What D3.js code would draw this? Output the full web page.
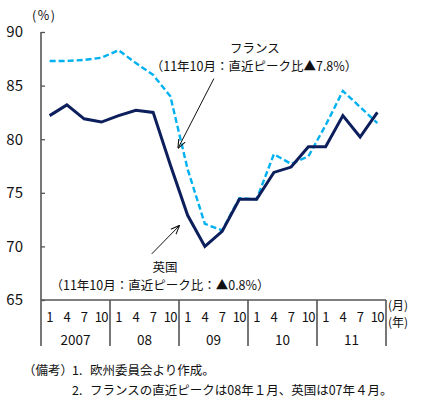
<!DOCTYPE html>
<html>
<head>
<meta charset="utf-8">
<script src="https://cdn.jsdelivr.net/npm/d3@7"></script>
<style>
  html, body { margin: 0; padding: 0; background: #fff; }
  svg text { font-family: "Noto Sans CJK JP", "Noto Sans", sans-serif; fill: #111; }
</style>
</head>
<body>
<script>
// quarterly data, 2007Q1 .. 2011Q4 (%)
var years = ['2007', '08', '09', '10', '11'];
var months = ['1', '4', '7', '10'];
var ukValues = [82.2, 83.2, 81.9, 81.6, 82.2, 82.7, 82.5, 77.6, 72.9, 70.0,
                71.4, 74.4, 74.4, 76.9, 77.4, 79.3, 79.3, 82.2, 80.2, 82.5];
var franceValues = [87.3, 87.3, 87.4, 87.6, 88.3, 87.1, 86.0, 84.0, 77.2, 72.1,
                    71.5, 74.5, 74.4, 78.6, 77.7, 78.4, 81.3, 84.5, 83.0, 81.5];
var yTicks = [65, 70, 75, 80, 85, 90];

var width = 424, height = 406;
var plotLeft = 41, plotRight = 386, plotTop = 32, plotBottom = 300;
var nQ = years.length * months.length;

var svg = d3.select('body').append('svg')
    .attr('width', width)
    .attr('height', height);

var x = d3.scaleLinear().domain([0, nQ]).range([plotLeft, plotRight]);
var y = d3.scaleLinear().domain([65, 90]).range([plotBottom, plotTop]);
var px = function(i){ return x(i + 0.5); };

// y axis (ticks pointing inside)
var yAxis = svg.append('g')
    .attr('transform', 'translate(' + plotLeft + ',0)')
    .call(d3.axisRight(y).tickValues(yTicks).tickSize(4).tickFormat(''));
yAxis.select('.domain').remove();
yAxis.selectAll('line').attr('stroke', '#555').attr('stroke-width', 1.3);

svg.append('g').selectAll('text')
    .data(yTicks)
    .enter()
    .append('text')
    .attr('x', 23)
    .attr('y', function(d){ return y(d); })
    .attr('dy', '0.36em')
    .attr('text-anchor', 'end')
    .style('font-size', '15px')
    .text(function(d){ return d; });

svg.append('text')
    .attr('x', 32).attr('y', 20)
    .style('font-size', '12.5px')
    .style('letter-spacing', '1.5px')
    .text('(%)');

// axis frame
svg.append('line')
    .attr('x1', plotLeft).attr('x2', plotLeft)
    .attr('y1', y(90)).attr('y2', 346)
    .attr('stroke', '#555').attr('stroke-width', 1.6);
svg.append('line')
    .attr('x1', plotLeft).attr('x2', plotRight)
    .attr('y1', plotBottom).attr('y2', plotBottom)
    .attr('stroke', '#555').attr('stroke-width', 1.6);

// year separators
svg.append('g').selectAll('line')
    .data(years)
    .enter()
    .append('line')
    .attr('x1', function(d, i){ return x((i + 1) * months.length); })
    .attr('x2', function(d, i){ return x((i + 1) * months.length); })
    .attr('y1', plotBottom).attr('y2', 346)
    .attr('stroke', '#555').attr('stroke-width', 1.6);

// month labels
var quarters = d3.range(nQ);
svg.append('g').selectAll('text')
    .data(quarters)
    .enter()
    .append('text')
    .attr('x', function(d){ return px(d); })
    .attr('y', 322)
    .attr('text-anchor', 'middle')
    .style('font-size', '13px')
    .style('letter-spacing', '-0.6px')
    .text(function(d){ return months[d % months.length]; });

// year labels
svg.append('g').selectAll('text')
    .data(years)
    .enter()
    .append('text')
    .attr('x', function(d, i){ return x(i * months.length + months.length / 2); })
    .attr('y', 345)
    .attr('text-anchor', 'middle')
    .style('font-size', '13.5px')
    .text(function(d){ return d; });

svg.append('text').attr('x', 388).attr('y', 310)
    .style('font-size', '12px').text('(月)');
svg.append('text').attr('x', 388).attr('y', 327)
    .style('font-size', '12px').text('(年)');

// lines
var line = d3.line()
    .x(function(d, i){ return px(i); })
    .y(function(d){ return y(d); });

svg.append('path')
    .datum(franceValues)
    .attr('d', line)
    .attr('fill', 'none')
    .attr('stroke', '#00b0f0')
    .attr('stroke-width', 2.4)
    .attr('stroke-dasharray', '6,3');

svg.append('path')
    .datum(ukValues)
    .attr('d', line)
    .attr('fill', 'none')
    .attr('stroke', '#0c1e5b')
    .attr('stroke-width', 3)
    .attr('stroke-linejoin', 'miter');

// annotations (arrow ends in data units: quarter index, %)
svg.append('defs').append('marker')
    .attr('id', 'arrow')
    .attr('viewBox', '0 0 10 10')
    .attr('refX', 9).attr('refY', 5)
    .attr('markerWidth', 9).attr('markerHeight', 9)
    .attr('markerUnits', 'userSpaceOnUse')
    .attr('orient', 'auto')
    .append('path')
    .attr('d', 'M0,1 L10,5 L0,9')
    .attr('fill', 'none')
    .attr('stroke', '#111')
    .attr('stroke-width', 1.2);

var arrows = [
    { from: [9.52, 85.65], to: [7.46, 79.2] },
    { from: [5.92, 69.3], to: [7.5, 71.9] }
];
svg.append('g').selectAll('line')
    .data(arrows)
    .enter()
    .append('line')
    .attr('x1', function(d){ return px(d.from[0]); })
    .attr('y1', function(d){ return y(d.from[1]); })
    .attr('x2', function(d){ return px(d.to[0]); })
    .attr('y2', function(d){ return y(d.to[1]); })
    .attr('stroke', '#111')
    .attr('stroke-width', 1)
    .attr('marker-end', 'url(#arrow)');

svg.append('text').attr('x', 255).attr('y', 53)
    .attr('text-anchor', 'middle').style('font-size', '12.5px')
    .text('フランス');
svg.append('text').attr('x', 254).attr('y', 71)
    .attr('text-anchor', 'middle').style('font-size', '12.5px')
    .text('（11年10月：直近ピーク比▲7.8%）');

svg.append('text').attr('x', 165).attr('y', 272)
    .attr('text-anchor', 'middle').style('font-size', '12.5px')
    .text('英国');
svg.append('text').attr('x', 160).attr('y', 290)
    .attr('text-anchor', 'middle').style('font-size', '12.5px')
    .text('（11年10月：直近ピーク比：▲0.8%）');

// notes
var notes = svg.append('g').style('font-size', '12.5px');
notes.append('text').attr('x', 23).attr('y', 375).text('（備考）');
notes.append('text').attr('x', 72).attr('y', 375).text('1.');
notes.append('text').attr('x', 90).attr('y', 375).text('欧州委員会より作成。');
notes.append('text').attr('x', 72).attr('y', 395).text('2.');
notes.append('text').attr('x', 90).attr('y', 395).text('フランスの直近ピークは08年１月、英国は07年４月。');
</script>
</body>
</html>
